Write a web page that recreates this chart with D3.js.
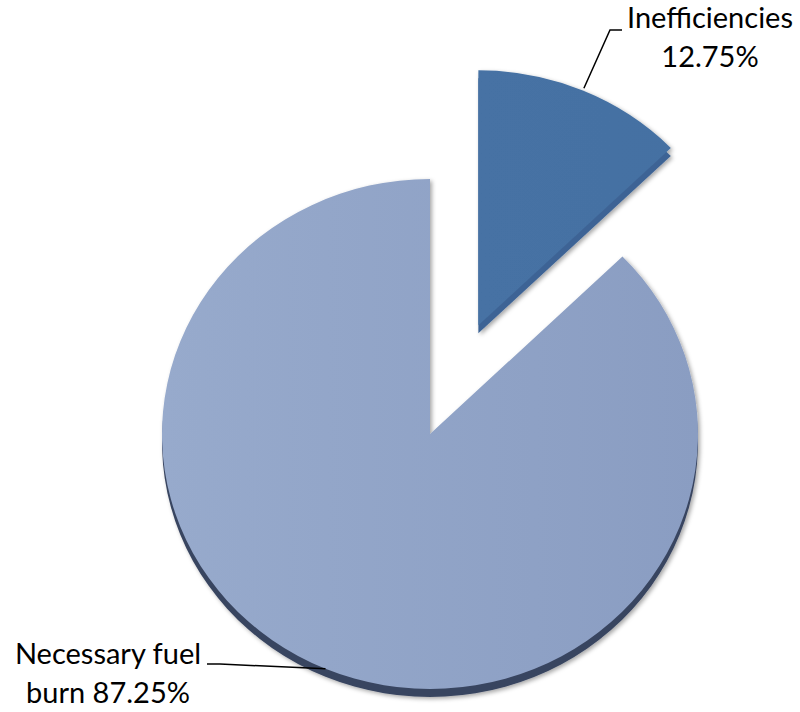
<!DOCTYPE html>
<html>
<head>
<meta charset="utf-8">
<script src="https://cdn.jsdelivr.net/npm/d3@7"></script>
<style>
  html, body { margin: 0; padding: 0; background: #fff; }
  text { font-family: Lato, "Open Sans", sans-serif; fill: #000; }
</style>
</head>
<body>
<svg id="chart"></svg>
<script>
const categories = ["Inefficiencies", "Necessary fuel burn"]
const shares = [12.75, 87.25]
const labelLines = [["Inefficiencies", "12.75%"], ["Necessary fuel", "burn 87.25%"]]

const width = 800
const height = 712
const cx = 430
const cy = 434
const rx = 268
const ry = 255
const depth = 8
const explode = [124, 0]

const topColors = [["#4874a6", "#4470a2"], ["#97aacc", "#8a9dc2"]]
const edgeColors = ["#3e6495", "#394560"]

// where the leader lines bend and where the text sits
const labelLayout = [
	{ elbow: [610, 30], end: [622, 30], textX: 710, textY: 28, anchorR: 1.01 },
	{ elbow: [220, 664], end: [207, 664], textX: 108, textY: 664, anchorR: 1.0 }
]

const svg = d3.select("#chart")
	.attr("width", width)
	.attr("height", height)

const defs = svg.append("defs")

const shadow = defs.append("filter")
	.attr("id", "shadow")
	.attr("x", "-10%").attr("y", "-10%")
	.attr("width", "120%").attr("height", "120%")
shadow.append("feDropShadow")
	.attr("dx", 2).attr("dy", 2)
	.attr("stdDeviation", 2)
	.attr("flood-color", "#000")
	.attr("flood-opacity", 0.35)

topColors.forEach((c, i) => {
	const g = defs.append("linearGradient")
		.attr("id", `grad${i}`)
		.attr("gradientUnits", "userSpaceOnUse")
		.attr("x1", -rx).attr("y1", 0)
		.attr("x2", rx).attr("y2", 0)
	g.append("stop").attr("offset", "0%").attr("stop-color", c[0])
	g.append("stop").attr("offset", "100%").attr("stop-color", c[1])
})

const pie = d3.pie().sort(null).value(d => d)
const arcs = pie(shares)

const arc = d3.arc().innerRadius(0).outerRadius(rx)

const midAngle = d => (d.startAngle + d.endAngle) / 2

function offset(d, i) {
	const a = midAngle(d)
	return [explode[i] * Math.sin(a), -explode[i] * Math.cos(a)]
}

const pieGroup = svg.append("g")
	.attr("transform", `translate(${cx},${cy}) scale(1,${ry / rx})`)

const slice = pieGroup.selectAll(".slice")
	.data(arcs)
	.enter().append("g")
	.attr("class", "slice")
	.attr("filter", "url(#shadow)")
	.attr("transform", (d, i) => `translate(${offset(d, i)})`)

// side of the disc
slice.append("path")
	.attr("d", arc)
	.attr("transform", `translate(0,${depth * rx / ry})`)
	.style("fill", (d, i) => edgeColors[i])

// top face
slice.append("path")
	.attr("d", arc)
	.style("fill", (d, i) => `url(#grad${i})`)

// Labels and leader lines
function anchorPoint(d, i) {
	const a = midAngle(d)
	const off = offset(d, i)
	const r = rx * labelLayout[i].anchorR
	return [cx + off[0] + r * Math.sin(a), cy + (off[1] - r * Math.cos(a)) * ry / rx]
}

const line = d3.line()

svg.selectAll(".leader")
	.data(arcs)
	.enter().append("path")
	.attr("class", "leader")
	.attr("d", (d, i) => line([anchorPoint(d, i), labelLayout[i].elbow, labelLayout[i].end]))
	.style("fill", "none")
	.style("stroke", "#000")
	.style("stroke-width", 1.5)

const label = svg.selectAll(".label")
	.data(arcs)
	.enter().append("text")
	.attr("class", "label")
	.attr("text-anchor", "middle")
	.style("font-size", "29px")

label.selectAll("tspan")
	.data((d, i) => labelLines[i].map(t => ({ t, i })))
	.enter().append("tspan")
	.attr("x", d => labelLayout[d.i].textX)
	.attr("y", (d, j) => labelLayout[d.i].textY + j * 39)
	.text(d => d.t)
</script>
</body>
</html>
